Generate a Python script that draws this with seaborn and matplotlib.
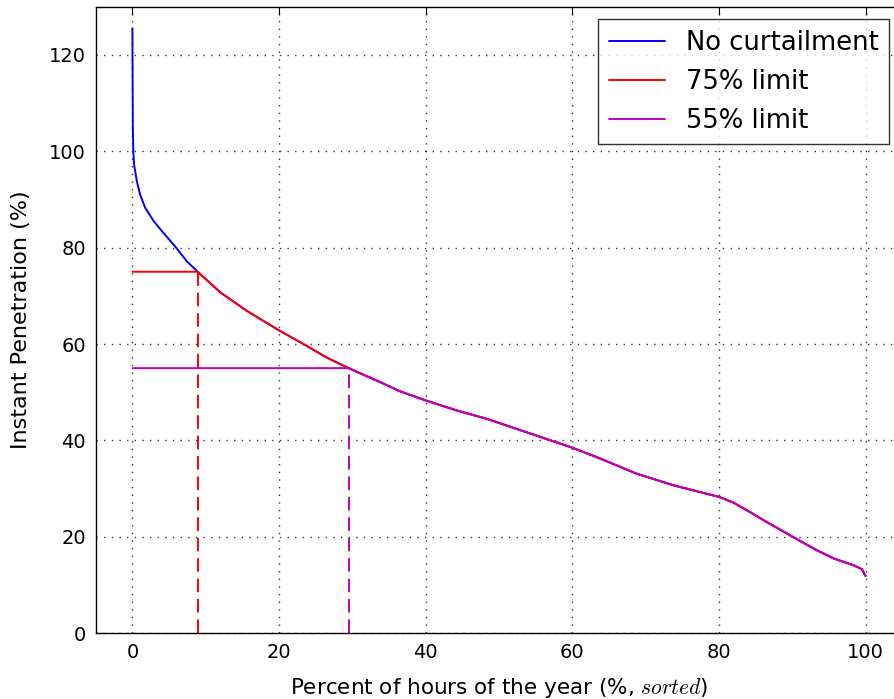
import matplotlib
matplotlib.use("Agg")
import matplotlib.pyplot as plt
import numpy as np
import pandas as pd
import seaborn as sns

# sorted duration curve
hours_pct = [0.0, 0.02, 0.06, 0.12, 0.23, 0.6, 1.05, 1.73, 2.9, 4.2, 5.8,
             7.4, 8.9, 12.0, 15.6, 19.7, 23.8, 26.5, 29.5, 33.8, 36.5,
             40.0, 44.3, 48.3, 52.4, 56.5, 60.0, 63.4, 68.8, 73.8, 80.0,
             82.0, 84.3, 86.5, 90.2, 93.4, 95.7, 98.4, 99.5, 100.0]
penetration = [125.5, 117.0, 105.0, 100.0, 97.2, 93.8, 91.0, 88.3, 85.5,
               83.1, 80.3, 77.2, 75.0, 70.7, 66.9, 63.1, 59.6, 57.2, 55.0,
               52.1, 50.2, 48.3, 46.2, 44.5, 42.4, 40.3, 38.5, 36.5, 33.1,
               30.7, 28.3, 27.1, 25.1, 23.1, 19.9, 17.2, 15.5, 14.1, 13.3,
               11.9]
limits = [75, 55]
series_names = ["No curtailment", "75% limit", "55% limit"]
series_colors = ["b", "r", "m"]


def main():
    sns.set_style("white")
    plt.rcParams.update({
        "font.family": ["DejaVu Sans"],
        "mathtext.fontset": "cm",
        "text.color": "k",
        "axes.labelcolor": "k",
        "xtick.direction": "in",
        "ytick.direction": "in",
        "xtick.top": True,
        "ytick.right": True,
        "xtick.major.size": 6,
        "ytick.major.size": 6,
        "xtick.color": "k",
        "ytick.color": "k",
        "axes.edgecolor": "k",
        "axes.linewidth": 1.0,
    })

    pen = np.array(penetration)
    frames = [pd.DataFrame({"x": hours_pct, "y": pen, "series": series_names[0]})]
    for name, lim in zip(series_names[1:], limits):
        frames.append(pd.DataFrame({"x": hours_pct, "y": np.minimum(pen, lim), "series": name}))
    df = pd.concat(frames, ignore_index=True)

    fig = plt.figure(figsize=(8.95, 6.99), dpi=100)
    ax = fig.add_axes([0.107, 0.094, 0.901, 0.8966])

    sns.lineplot(data=df, x="x", y="y", hue="series", hue_order=series_names,
                 palette=series_colors, estimator=None, sort=False, linewidth=1.4, ax=ax)

    # dashed drop lines where each limit cuts the curve
    for lim, col in zip(limits, series_colors[1:]):
        x_cross = np.interp(lim, pen[::-1], np.array(hours_pct)[::-1])
        ax.vlines(x_cross, 0, lim, colors=col, linestyles=(0, (7, 3.5)), linewidth=1.4)

    ax.set_xlim(-5, 105)
    ax.set_ylim(0, 130)
    ax.set_xticks([0, 20, 40, 60, 80, 100])
    ax.set_yticks([0, 20, 40, 60, 80, 100, 120])
    ax.grid(True, linestyle=(0, (1, 4.5)), color="0.2", linewidth=1.0)
    ax.tick_params(labelsize=14, pad=7)

    ax.set_xlabel(r"Percent of hours of the year (%, $sorted$)", fontsize=15.5, labelpad=10)
    ax.set_ylabel("Instant Penetration (%)", fontsize=16, labelpad=13)

    leg = ax.legend(loc="upper right", fontsize=18.6, fancybox=False, frameon=True,
                    borderaxespad=0.5, handlelength=2.2)
    leg.get_frame().set_edgecolor("k")
    leg.get_frame().set_linewidth(1.0)
    for line in leg.get_lines():
        line.set_linewidth(1.4)

    plt.savefig("out.png", dpi=100)


if __name__ == "__main__":
    main()
